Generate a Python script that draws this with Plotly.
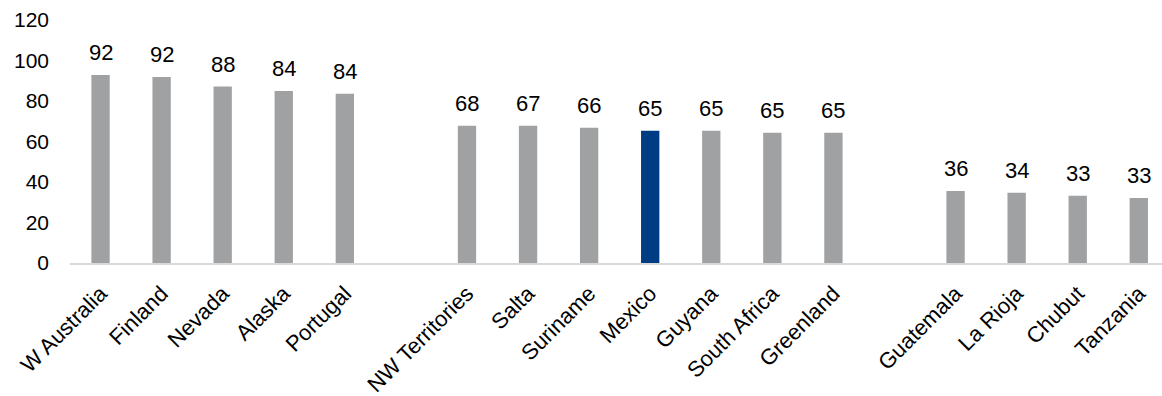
import plotly.graph_objects as go

categories = ["W Australia", "Finland", "Nevada", "Alaska", "Portugal", " ",
              "NW Territories", "Salta", "Suriname", "Mexico", "Guyana", "South Africa", "Greenland", "  ",
              "Guatemala", "La Rioja", "Chubut", "Tanzania"]
values = [92.8, 91.9, 87.1, 85.0, 83.6, None,
          67.8, 67.8, 66.8, 65.3, 65.3, 64.3, 64.3, None,
          35.6, 34.7, 33.2, 32.1]
labels = ["92", "92", "88", "84", "84", "",
          "68", "67", "66", "65", "65", "65", "65", "",
          "36", "34", "33", "33"]
highlight = "Mexico"

GRAY = "#A0A1A3"
BLUE = "#003C84"
colors = [BLUE if c == highlight else GRAY for c in categories]

FONT = "Liberation Sans, Arial, sans-serif"

fig = go.Figure(go.Bar(x=categories, y=values, marker=dict(color=colors, line=dict(width=0)),
                       width=0.30, hoverinfo="skip"))

for c, v, t in zip(categories, values, labels):
    if v is None:
        continue
    fig.add_annotation(x=c, y=v, text=t, showarrow=False, yanchor="bottom", yshift=8,
                       font=dict(family=FONT, size=22, color="#000000"))

fig.update_layout(
    width=1162, height=396,
    margin=dict(l=70, r=0, t=20, b=133),
    paper_bgcolor="white", plot_bgcolor="white",
    showlegend=False,
    bargap=0.7,
)
fig.update_xaxes(type="category", categoryorder="array", categoryarray=categories,
                 range=[-0.5, 17.38], tickangle=-45, ticklabelstandoff=7, automargin=False,
                 tickfont=dict(family=FONT, size=22, color="#000000"),
                 showline=True, linecolor="#D9D9D9", linewidth=2,
                 showgrid=False, ticks="", zeroline=False)
fig.update_yaxes(range=[0, 120], dtick=20, tick0=0, showgrid=False, zeroline=False,
                 showline=False, ticks="", ticklabelstandoff=20, automargin=False,
                 tickfont=dict(family=FONT, size=21, color="#000000"))

fig.write_html("out.html")
